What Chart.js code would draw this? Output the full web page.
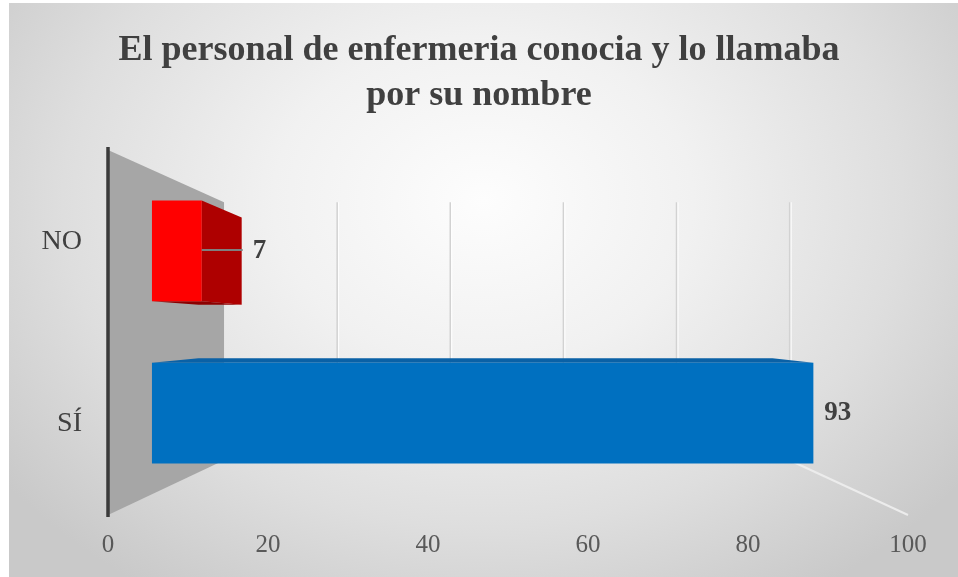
<!DOCTYPE html>
<html>
<head>
<meta charset="utf-8">
<script src="https://cdn.jsdelivr.net/npm/chart.js@4.4.1/dist/chart.umd.min.js"></script>
<style>
html,body{margin:0;padding:0;background:#fff;overflow:hidden}
#wrap{position:absolute;left:0;top:0;width:958px;height:577px}
</style>
</head>
<body>
<div id="wrap"><canvas id="c" width="958" height="577"></canvas></div>
<script>
// ---- data ----
const categories = ['NO', 'SÍ'];
const values = [7, 93];
const xTicks = [0, 20, 40, 60, 80, 100];
const titleLines = ['El personal de enfermeria conocia y lo llamaba', 'por su nombre'];

// ---- styles ----
const barColors = ['#ff0000', '#0070c0'];
const sideColors = ['#ae0000', '#00528e'];
const capColors = ['#8c0000', '#0a61a6'];
const SERIF = '"Liberation Serif", "Times New Roman", serif';

// perspective parameters (front plane = 1)
const S_BACK = 0.707, S_BAR_FRONT = 0.889, S_BAR_BACK = 0.7715;
function vp(ca) {
  return [ca.left + 0.495 * (ca.right - ca.left), ca.top + 0.488 * (ca.bottom - ca.top)];
}
function proj(ca, x, y, s) {
  const [vx, vy] = vp(ca);
  return [vx + (x - vx) * s, vy + (y - vy) * s];
}
function poly(ctx, pts, color) {
  ctx.beginPath();
  ctx.moveTo(pts[0][0], pts[0][1]);
  for (let i = 1; i < pts.length; i++) ctx.lineTo(pts[i][0], pts[i][1]);
  ctx.closePath();
  ctx.fillStyle = color;
  ctx.fill();
}

const bgPlugin = {
  id: 'bg',
  beforeDraw(chart) {
    const ctx = chart.ctx;
    ctx.save();
    ctx.fillStyle = '#ffffff';
    ctx.fillRect(0, 0, chart.width, chart.height);
    ctx.beginPath();
    ctx.rect(9, 3, chart.width - 9, chart.height - 3);
    ctx.clip();
    ctx.translate(483, 200);
    ctx.scale(1, 0.78);
    const g = ctx.createRadialGradient(0, 0, 0, 0, 0, 600);
    g.addColorStop(0, '#fdfdfd');
    g.addColorStop(0.35, '#f1f1f1');
    g.addColorStop(0.7, '#dedede');
    g.addColorStop(1, '#c9c9c9');
    ctx.fillStyle = g;
    ctx.fillRect(-700, -700, 1400, 1400);
    ctx.restore();
  }
};

const wallPlugin = {
  id: 'walls',
  beforeDatasetsDraw(chart) {
    const ctx = chart.ctx, ca = chart.chartArea, xs = chart.scales.x;
    ctx.save();
    // back wall gridlines
    xTicks.forEach(v => {
      if (v === 0) return;
      const px = xs.getPixelForValue(v);
      const a = proj(ca, px, ca.top, S_BACK), b = proj(ca, px, ca.bottom, S_BACK);
      ctx.lineWidth = 1.5;
      ctx.strokeStyle = '#d2d2d2';
      ctx.beginPath(); ctx.moveTo(a[0], a[1]); ctx.lineTo(b[0], b[1]); ctx.stroke();
      ctx.strokeStyle = '#ffffff';
      ctx.lineWidth = 1;
      ctx.beginPath(); ctx.moveTo(a[0] + 1.5, a[1]); ctx.lineTo(b[0] + 1.5, b[1]); ctx.stroke();
    });
    // floor edge at max value
    const pmax = xs.getPixelForValue(xTicks[xTicks.length - 1]);
    const fb = proj(ca, pmax, ca.bottom, S_BACK);
    ctx.strokeStyle = '#ececec';
    ctx.lineWidth = 2;
    ctx.beginPath(); ctx.moveTo(fb[0], fb[1]); ctx.lineTo(pmax, ca.bottom); ctx.stroke();
    // side wall at value 0
    const x0 = xs.getPixelForValue(0);
    poly(ctx, [[x0, ca.top], proj(ca, x0, ca.top, S_BACK), proj(ca, x0, ca.bottom, S_BACK), [x0, ca.bottom]], '#a6a6a6');
    // axis line
    ctx.strokeStyle = '#3a3a3a';
    ctx.lineWidth = 3.5;
    ctx.beginPath(); ctx.moveTo(x0, ca.top - 3); ctx.lineTo(x0, ca.bottom + 2); ctx.stroke();
    ctx.restore();
  },
  beforeDatasetDraw(chart, args) {
    const ctx = chart.ctx, ca = chart.chartArea;
    const [vx, vy] = vp(ca);
    const meta = chart.getDatasetMeta(args.index);
    ctx.save();
    meta.data.forEach((el, i) => {
      const p = el.getProps(['x', 'y', 'base', 'height'], true);
      const l = Math.min(p.base, p.x), r = Math.max(p.base, p.x);
      const t = p.y - p.height / 2, b = p.y + p.height / 2;
      const f = (x, y, s) => proj(ca, x, y, s);
      const S1 = S_BAR_FRONT, S2 = S_BAR_BACK;
      if (t > vy) poly(ctx, [f(l, t, S1), f(r, t, S1), f(r, t, S2), f(l, t, S2)], capColors[i]);
      if (b < vy) poly(ctx, [f(l, b, S1), f(r, b, S1), f(r, b, S2), f(l, b, S2)], capColors[i]);
      if (r < vx) poly(ctx, [f(r, t, S1), f(r, b, S1), f(r, b, S2), f(r, t, S2)], sideColors[i]);
      if (l > vx) poly(ctx, [f(l, t, S1), f(l, b, S1), f(l, b, S2), f(l, t, S2)], sideColors[i]);
      poly(ctx, [f(l, t, S1), f(r, t, S1), f(r, b, S1), f(l, b, S1)], barColors[i]);
    });
    ctx.restore();
    return false;
  },
  afterDatasetsDraw(chart) {
    const ctx = chart.ctx, ca = chart.chartArea;
    const meta = chart.getDatasetMeta(0);
    ctx.save();
    meta.data.forEach((el, i) => {
      const p = el.getProps(['x', 'y', 'base', 'height'], true);
      const r = Math.max(p.base, p.x);
      const fr = proj(ca, r, p.y, S_BAR_FRONT), bk = proj(ca, r, p.y, S_BAR_BACK);
      let lx = fr[0];
      if (bk[0] > fr[0]) {
        ctx.strokeStyle = '#7f7f7f';
        ctx.lineWidth = 2;
        ctx.beginPath(); ctx.moveTo(fr[0], fr[1] - 1); ctx.lineTo(bk[0] + 1, fr[1] - 1); ctx.stroke();
        lx = bk[0];
      }
      ctx.font = 'bold 27px ' + SERIF;
      ctx.fillStyle = '#404040';
      ctx.textAlign = 'left';
      ctx.textBaseline = 'middle';
      ctx.fillText(String(values[i]), lx + 11, fr[1]);
    });
    ctx.restore();
  }
};

new Chart(document.getElementById('c'), {
  type: 'bar',
  data: {
    labels: categories,
    datasets: [{
      data: values,
      backgroundColor: barColors,
      categoryPercentage: 1,
      barPercentage: 0.62
    }]
  },
  options: {
    indexAxis: 'y',
    responsive: false,
    devicePixelRatio: 1,
    animation: false,
    layout: { padding: { left: 0, right: 0, top: 0, bottom: 0 } },
    plugins: {
      legend: { display: false },
      tooltip: { enabled: false },
      title: {
        display: true,
        text: titleLines,
        color: '#404040',
        font: { family: SERIF, size: 36, weight: 'bold', lineHeight: 1.25 },
        padding: { top: 28, bottom: 32 }
      }
    },
    scales: {
      x: {
        min: 0, max: 100,
        position: 'bottom',
        afterBuildTicks: s => { s.ticks = xTicks.map(v => ({ value: v })); },
        afterFit: s => { s.height = 62; },
        grid: { display: false, drawTicks: false, tickLength: 0 },
        border: { display: false },
        ticks: { color: '#595959', font: { family: SERIF, size: 25 }, padding: 15, maxRotation: 0 }
      },
      y: {
        afterFit: s => { s.width = 108; },
        grid: { display: false, drawTicks: false, tickLength: 0 },
        border: { display: false },
        ticks: { color: '#404040', font: { family: SERIF, size: 28 }, padding: 26 }
      },
      yRight: {
        type: 'category',
        position: 'right',
        afterFit: s => { s.width = 50; },
        grid: { display: false, drawTicks: false, tickLength: 0 },
        border: { display: false },
        ticks: { display: false }
      }
    }
  },
  plugins: [bgPlugin, wallPlugin]
});
</script>
</body>
</html>
